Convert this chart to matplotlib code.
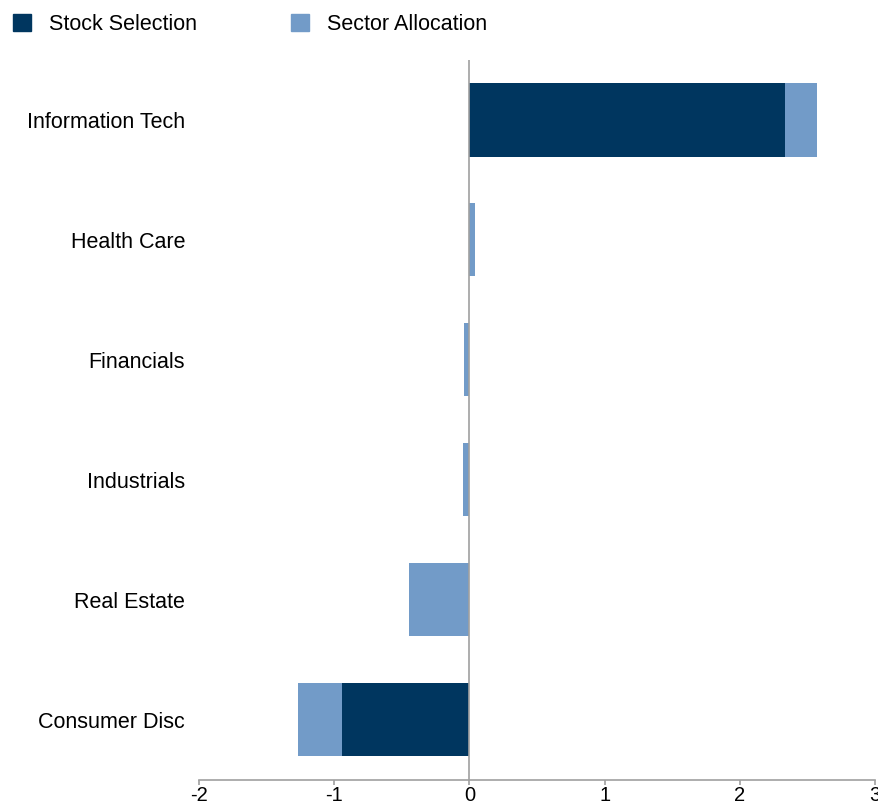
import matplotlib.pyplot as plt
from matplotlib.patches import Patch

plt.rcParams['font.family'] = ['Liberation Sans', 'DejaVu Sans']

sectors = ['Information Tech', 'Health Care', 'Financials', 'Industrials',
           'Real Estate', 'Consumer Disc']
stock_selection = [2.335, 0.0, 0.0, 0.0, 0.0, -0.945]
sector_allocation = [0.235, 0.045, -0.04, -0.045, -0.45, -0.32]

dark = '#00365F'
light = '#729BC8'

fig = plt.figure(figsize=(8.79, 8.06), dpi=100)
ax = fig.add_axes([199 / 879, 26.5 / 806, 676 / 879, 719.5 / 806])

y = list(range(len(sectors)))[::-1]
ax.barh(y, stock_selection, height=0.61, color=dark, zorder=2)
ax.barh(y, sector_allocation, left=stock_selection, height=0.61, color=light, zorder=2)

ax.axvline(0, color='#a0a0a0', lw=1.2, zorder=3)

ax.set_xlim(-2, 3)
ax.set_ylim(-0.5, 5.5)
ax.set_xticks([-2, -1, 0, 1, 2, 3])
ax.set_xticklabels(['-2', '-1', '0', '1', '2', '3'])
ax.set_yticks(y)
ax.set_yticklabels(sectors)

for s in ['top', 'right', 'left']:
    ax.spines[s].set_visible(False)
ax.spines['bottom'].set_color('#a0a0a0')
ax.spines['bottom'].set_linewidth(1.2)
ax.tick_params(axis='x', colors='#a0a0a0', labelcolor='black', labelsize=14.5,
               length=3.5, width=1.2, pad=1.5)
ax.tick_params(axis='y', length=0, labelsize=15.5, pad=10)

handles = [Patch(color=dark), Patch(color=light)]
fig.legend(handles, ['Stock Selection', 'Sector Allocation'], loc='upper left',
           bbox_to_anchor=(13 / 879, 0.9832), ncol=2, frameon=False, fontsize=15.5,
           borderpad=0, borderaxespad=0,
           handlelength=0.84, handleheight=0.84, handletextpad=0.84, columnspacing=4.37)

fig.savefig('out.png', dpi=100)
